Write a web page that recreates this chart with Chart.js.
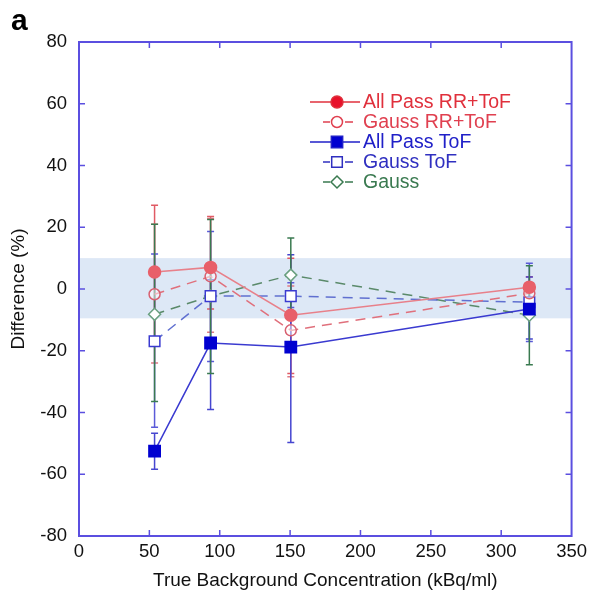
<!DOCTYPE html>
<html>
<head>
<meta charset="utf-8">
<script src="https://cdn.jsdelivr.net/npm/chart.js@4.4.1/dist/chart.umd.min.js"></script>
<style>
  html, body { margin: 0; padding: 0; background: #fff; }
  #wrap { position: relative; width: 592px; height: 597px; }
  #panel { position: absolute; left: 11px; top: 5px; font: bold 30px/30px "Liberation Sans", Arial, sans-serif; color: #000; }
</style>
</head>
<body>
<div id="wrap">
  <canvas id="chart" width="592" height="597"></canvas>
  <div id="panel">a</div>
</div>
<script>
// ==============================
// DATA
// ==============================
const concentrations = [53.7, 93.5, 150.5, 320];

const seriesNames = ["All Pass RR+ToF", "Gauss RR+ToF", "All Pass ToF", "Gauss ToF", "Gauss"];

const allPassRRToF     = [5.5, 7.0, -8.5, 0.6];
const allPassRRToFLow  = [-16, -6.5, -27.4, -3];
const allPassRRToFHigh = [27.1, 23.5, 10, 4];

const gaussRRToF     = [-1.7, 4.1, -13.4, -1.4];
const gaussRRToFLow  = [-24, -14, -28.4, -5];
const gaussRRToFHigh = [21, 22.8, 1, 2];

const allPassToF     = [-52.5, -17.5, -18.8, -6.5];
const allPassToFLow  = [-58.4, -39, -49.7, -16.2];
const allPassToFHigh = [-46.7, 3, 11.1, 3.9];

const gaussToF     = [-16.9, -2.3, -2.3, -4.3];
const gaussToFLow  = [-44.8, -23.5, -6, -17];
const gaussToFHigh = [11.3, 18.6, 2, 8.3];

const gauss     = [-8.2, -2.3, 4.5, -8.5];
const gaussLow  = [-36.4, -27.4, -7.5, -24.5];
const gaussHigh = [21, 22.5, 16.5, 7.5];

const xTicks = [0, 50, 100, 150, 200, 250, 300, 350];
const yTicks = [-80, -60, -40, -20, 0, 20, 40, 60, 80];

// shaded +/- band
const bandLimits = [-9.5, 10];

// ==============================
// STYLES
// ==============================
const AXIS_COLOR = "#5b4fe0";
const FONT = "'Liberation Sans', Arial, sans-serif";

const STYLES = [
  { line: "#e8808a", fill: "#e8606a", edge: "#e8606a", bar: "#e05a64", text: "#e0303c", legFill: "#e8102a", dash: [], shape: "circle", r: 6 },
  { line: "#e0707c", fill: "rgba(255,255,255,0.5)", edge: "#d86070", bar: "#e07a84", text: "#e04050", legFill: "#ffffff", dash: [10, 7], shape: "circle", r: 5.5 },
  { line: "#3a3ad0", fill: "#0000d0", edge: "#0000d0", bar: "#4646d0", text: "#2020c8", legFill: "#0000d0", dash: [], shape: "rect", r: 8 },
  { line: "#6070d0", fill: "#ffffff", edge: "#3a3ad0", bar: "#5a5ad8", text: "#3030c0", legFill: "#ffffff", dash: [10, 7], shape: "rect", r: 7.5 },
  { line: "#5a8a6a", fill: "#ffffff", edge: "#6aa080", bar: "#3a7a50", text: "#3a7a50", legFill: "#ffffff", dash: [10, 7], shape: "rectRot", r: 6 }
];

const values = [allPassRRToF, gaussRRToF, allPassToF, gaussToF, gauss];
const lows   = [allPassRRToFLow, gaussRRToFLow, allPassToFLow, gaussToFLow, gaussLow];
const highs  = [allPassRRToFHigh, gaussRRToFHigh, allPassToFHigh, gaussToFHigh, gaussHigh];

// ==============================
// PLUGINS
// ==============================
const bandAndErrors = {
  id: "bandAndErrors",
  beforeDatasetsDraw(chart) {
    const { ctx, chartArea, scales: { x, y } } = chart;
    ctx.save();
    ctx.fillStyle = "#dde8f6";
    const yTop = y.getPixelForValue(bandLimits[1]);
    const yBot = y.getPixelForValue(bandLimits[0]);
    ctx.fillRect(chartArea.left, yTop, chartArea.right - chartArea.left, yBot - yTop);

    // error bars, green drawn last as in the original
    values.forEach((_, s) => {
      ctx.strokeStyle = STYLES[s].bar;
      ctx.lineWidth = 1.5;
      concentrations.forEach((c, i) => {
        const px = x.getPixelForValue(c);
        const lo = y.getPixelForValue(lows[s][i]);
        const hi = y.getPixelForValue(highs[s][i]);
        ctx.beginPath();
        ctx.moveTo(px, lo); ctx.lineTo(px, hi);
        ctx.moveTo(px - 3.5, lo); ctx.lineTo(px + 3.5, lo);
        ctx.moveTo(px - 3.5, hi); ctx.lineTo(px + 3.5, hi);
        ctx.stroke();
      });
    });
    ctx.restore();
  }
};

const frameAndLegend = {
  id: "frameAndLegend",
  afterDraw(chart) {
    const { ctx, chartArea: a, scales: { x, y } } = chart;
    ctx.save();
    // frame
    ctx.strokeStyle = AXIS_COLOR;
    ctx.lineWidth = 2;
    ctx.strokeRect(a.left, a.top, a.right - a.left, a.bottom - a.top);
    // inward ticks on all four sides
    ctx.lineWidth = 1.5;
    ctx.beginPath();
    xTicks.slice(1, -1).forEach(v => {
      const px = x.getPixelForValue(v);
      ctx.moveTo(px, a.bottom); ctx.lineTo(px, a.bottom - 6);
      ctx.moveTo(px, a.top);    ctx.lineTo(px, a.top + 6);
    });
    yTicks.slice(1, -1).forEach(v => {
      const py = y.getPixelForValue(v);
      ctx.moveTo(a.left, py);  ctx.lineTo(a.left + 6, py);
      ctx.moveTo(a.right, py); ctx.lineTo(a.right - 6, py);
    });
    ctx.stroke();

    // legend
    const rowY0 = 102, rowGap = 20;
    ctx.font = "19.5px " + FONT;
    ctx.textBaseline = "middle";
    seriesNames.forEach((name, s) => {
      const st = STYLES[s];
      const ry = rowY0 + s * rowGap;
      const mx = 337;
      ctx.setLineDash([]);
      ctx.strokeStyle = st.text;
      ctx.lineWidth = 1.5;
      ctx.beginPath();
      if (st.dash.length) {
        ctx.moveTo(323, ry); ctx.lineTo(330, ry);
        ctx.moveTo(345, ry); ctx.lineTo(353, ry);
      } else {
        ctx.moveTo(310, ry); ctx.lineTo(360, ry);
      }
      ctx.stroke();
      ctx.fillStyle = st.legFill;
      ctx.strokeStyle = st.text;
      Chart.helpers.drawPoint(ctx, { pointStyle: st.shape, radius: st.r, rotation: 0, borderWidth: 1.5 }, mx, ry);
      ctx.fillStyle = st.text;
      ctx.fillText(name, 363, ry + 1);
    });
    ctx.restore();
  }
};

// ==============================
// CHART
// ==============================
const datasets = seriesNames.map((name, s) => ({
  label: name,
  data: concentrations.map((c, i) => ({ x: c, y: values[s][i] })),
  borderColor: STYLES[s].line,
  borderWidth: 1.5,
  borderDash: STYLES[s].dash,
  pointStyle: STYLES[s].shape,
  pointRadius: STYLES[s].r,
  pointBackgroundColor: STYLES[s].fill,
  pointBorderColor: STYLES[s].edge,
  pointBorderWidth: 1.5,
  tension: 0,
  fill: false
}));

new Chart(document.getElementById("chart"), {
  type: "line",
  data: { datasets },
  options: {
    responsive: false,
    animation: false,
    events: [],
    layout: { padding: { top: 42, right: 17, left: 0, bottom: 0 } },
    plugins: { legend: { display: false }, tooltip: { enabled: false } },
    scales: {
      x: {
        type: "linear", min: 0, max: 350,
        afterBuildTicks: s => { s.ticks = xTicks.map(v => ({ value: v })); },
        afterFit: s => { s.height = 61; },
        grid: { display: false, drawTicks: false },
        border: { display: false },
        ticks: { color: "#111", font: { family: FONT, size: 18.5 }, padding: 5, maxRotation: 0 },
        title: { display: true, text: "True Background Concentration (kBq/ml)", color: "#111",
                 font: { family: FONT, size: 19 }, padding: { top: 2, bottom: 5 } }
      },
      y: {
        min: -80, max: 80,
        afterBuildTicks: s => { s.ticks = yTicks.map(v => ({ value: v })); },
        afterFit: s => { s.width = 79; },
        grid: { display: false, drawTicks: false },
        border: { display: false },
        ticks: { color: "#111", font: { family: FONT, size: 18.5 }, padding: 12 },
        title: { display: true, text: "Difference (%)", color: "#111",
                 font: { family: FONT, size: 19 }, padding: { top: 7, bottom: 0 } }
      }
    }
  },
  plugins: [bandAndErrors, frameAndLegend]
});
</script>
</body>
</html>
